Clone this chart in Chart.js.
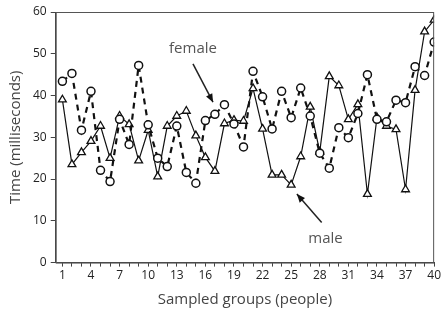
<!DOCTYPE html>
<html>
<head>
<meta charset="utf-8">
<script src="https://cdn.jsdelivr.net/npm/chart.js@4/dist/chart.umd.min.js"></script>
<style>
  html, body { margin: 0; padding: 0; background: #fff; }
  #wrap { width: 443px; height: 318px; }
</style>
</head>
<body>
<div id="wrap"><canvas id="chart"></canvas></div>
<script>
// sampled groups 1..40
const groups = [];
for (let i = 1; i <= 40; i++) groups.push(i);

// values (milliseconds)
const female = [43.4, 45.3, 31.7, 41.0, 22.1, 19.4, 34.3, 28.3, 47.2, 33.0,
                25.0, 23.0, 32.7, 21.6, 19.0, 34.0, 35.5, 37.8, 33.2, 27.7,
                45.8, 39.7, 32.0, 41.0, 34.7, 41.8, 35.1, 26.2, 22.6, 32.3,
                29.9, 35.7, 45.0, 34.3, 33.7, 38.9, 38.3, 46.9, 44.8, 52.8];
const male = [39.0, 23.5, 26.4, 29.1, 32.7, 25.0, 35.1, 33.1, 24.4, 31.7,
              20.6, 32.7, 35.1, 36.3, 30.4, 25.2, 21.9, 33.3, 34.1, 33.9,
              41.7, 32.0, 21.0, 21.0, 18.6, 25.4, 37.3, 26.5, 44.6, 42.4,
              34.3, 37.9, 16.4, 34.7, 32.7, 31.9, 17.5, 41.3, 55.3, 58.1];

const xLabels = [1, 4, 7, 10, 13, 16, 19, 22, 25, 28, 31, 34, 37, 40];

// series annotations, in data units
const notes = [
  { text: "female", x: 14.7, y: 51.3, from: [14.7, 47.6], to: [16.8, 38.4] },
  { text: "male", x: 28.6, y: 5.6, from: [28.2, 9.6], to: [25.6, 16.4] }
];

const fontName = "'Open Sans', 'DejaVu Sans', sans-serif";

function toPoints(arr) {
  return arr.map((v, i) => ({ x: groups[i], y: v }));
}

// box around the plot + the text labels with arrows
const framePlugin = {
  id: 'frame_and_notes',
  afterDraw: (chart) => {
    const ctx = chart.ctx;
    const a = chart.chartArea;
    const xs = chart.scales.x, ys = chart.scales.y;
    ctx.save();
    ctx.strokeStyle = '#555';
    ctx.lineWidth = 1;
    ctx.strokeRect(a.left + 0.5, a.top + 0.5, a.right - a.left - 1, a.bottom - a.top);
    ctx.fillStyle = '#555';
    ctx.font = '15px ' + fontName;
    ctx.textAlign = 'center';
    ctx.textBaseline = 'middle';
    notes.forEach(n => {
      ctx.fillText(n.text, xs.getPixelForValue(n.x), ys.getPixelForValue(n.y));
      const x1 = xs.getPixelForValue(n.from[0]), y1 = ys.getPixelForValue(n.from[1]);
      const x2 = xs.getPixelForValue(n.to[0]), y2 = ys.getPixelForValue(n.to[1]);
      ctx.strokeStyle = '#222';
      ctx.lineWidth = 1.5;
      ctx.beginPath();
      ctx.moveTo(x1, y1);
      ctx.lineTo(x2, y2);
      ctx.stroke();
      const ang = Math.atan2(y2 - y1, x2 - x1);
      ctx.fillStyle = '#111';
      ctx.beginPath();
      ctx.moveTo(x2, y2);
      ctx.lineTo(x2 - 9 * Math.cos(ang - 0.4), y2 - 9 * Math.sin(ang - 0.4));
      ctx.lineTo(x2 - 9 * Math.cos(ang + 0.4), y2 - 9 * Math.sin(ang + 0.4));
      ctx.closePath();
      ctx.fill();
      ctx.fillStyle = '#555';
    });
    ctx.restore();
  }
};

new Chart(document.getElementById('chart'), {
  type: 'line',
  data: {
    datasets: [
      {
        label: 'female',
        data: toPoints(female),
        borderColor: '#111',
        borderWidth: 2.2,
        borderDash: [6, 5],
        pointStyle: 'circle',
        pointRadius: 4,
        pointBorderWidth: 1.5,
        pointBackgroundColor: '#fff',
        pointBorderColor: '#111',
        tension: 0
      },
      {
        label: 'male',
        data: toPoints(male),
        borderColor: '#111',
        borderWidth: 1.2,
        pointStyle: 'triangle',
        pointRadius: 4.5,
        pointBorderWidth: 1.3,
        pointBackgroundColor: '#fff',
        pointBorderColor: '#111',
        tension: 0
      }
    ]
  },
  options: {
    responsive: true,
    maintainAspectRatio: false,
    animation: false,
    layout: { padding: { top: 12, right: 7, left: 7, bottom: 9 } },
    plugins: { legend: { display: false }, tooltip: { enabled: false } },
    scales: {
      x: {
        type: 'linear',
        min: 0.3,
        max: 40,
        afterBuildTicks: (axis) => {
          axis.ticks = groups.map(g => ({ value: g }));
        },
        grid: { display: true, drawOnChartArea: false, tickLength: 4, color: '#444' },
        border: { color: '#444', width: 1 },
        ticks: {
          autoSkip: false,
          maxRotation: 0,
          color: '#222',
          font: { family: fontName, size: 12 },
          padding: 2,
          callback: (v) => xLabels.includes(v) ? String(v) : ''
        },
        title: {
          display: true,
          text: 'Sampled groups (people)',
          color: '#444',
          font: { family: fontName, size: 15 },
          padding: { top: 6, bottom: 0 }
        }
      },
      y: {
        min: 0,
        max: 60,
        grid: { display: true, drawOnChartArea: false, tickLength: 5, color: '#444' },
        border: { color: '#444', width: 1 },
        ticks: {
          stepSize: 10,
          color: '#222',
          font: { family: fontName, size: 12 },
          padding: 4
        },
        title: {
          display: true,
          text: 'Time (milliseconds)',
          color: '#444',
          font: { family: fontName, size: 15 },
          padding: { top: 0, bottom: 4 }
        }
      }
    }
  },
  plugins: [framePlugin]
});
</script>
</body>
</html>
